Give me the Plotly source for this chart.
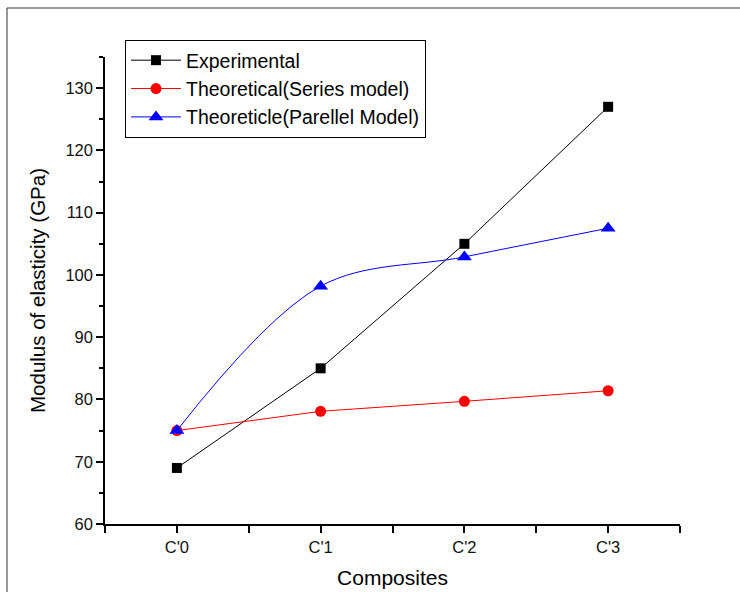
import plotly.graph_objects as go

categories = ["C'0", "C'1", "C'2", "C'3"]
experimental = [69, 85, 105, 127]
series_model = [75, 78.1, 79.7, 81.4]
parallel_model = [75, 98.2, 102.9, 107.5]
y_ticks = [60, 70, 80, 90, 100, 110, 120, 130]

xi = list(range(len(categories)))

fig = go.Figure()
fig.add_trace(go.Scatter(
    x=xi, y=experimental, name="Experimental", mode="lines+markers",
    line=dict(color="black", width=1),
    marker=dict(symbol="square", size=10, color="black")))
fig.add_trace(go.Scatter(
    x=xi, y=series_model, name="Theoretical(Series model)", mode="lines+markers",
    line=dict(color="#ff0000", width=1),
    marker=dict(symbol="circle", size=11, color="#ff0000")))
fig.add_trace(go.Scatter(
    x=xi, y=parallel_model, name="Theoreticle(Parellel Model)", mode="lines+markers",
    line=dict(color="#0000ff", width=1, shape="spline", smoothing=1),
    marker=dict(symbol="triangle-up", size=13, color="#0000ff")))

axis_font = dict(family="Liberation Sans, Arial, sans-serif", size=16.5, color="#111")

fig.update_layout(
    width=740, height=592,
    margin=dict(l=105, r=60, t=57, b=68, autoexpand=False),
    paper_bgcolor="white", plot_bgcolor="white",
    font=dict(family="Liberation Sans, Arial, sans-serif", color="black"),
    showlegend=True,
    legend=dict(
        x=(125 - 105) / 575, y=(524 - 40) / 467, xanchor="left", yanchor="top",
        bordercolor="black", borderwidth=1, bgcolor="white",
        font=dict(size=19.5, color="black"),
        tracegroupgap=0, itemwidth=50,
    ),
    xaxis=dict(
        range=[-0.5, 3.5], tickmode="array", tickvals=xi, ticktext=categories,
        automargin=False,
        showgrid=False, zeroline=False, showline=True, linecolor="black", linewidth=1.5,
        ticks="outside", ticklen=7, tickwidth=1.5, tickcolor="black",
        tickfont=axis_font,
        minor=dict(tickmode="array", tickvals=[-0.5, 0.5, 1.5, 2.5, 3.5],
                   ticks="outside", ticklen=7, tickwidth=1.5, tickcolor="black", showgrid=False),
        title=dict(text="Composites", font=dict(size=21, color="black"), standoff=16),
    ),
    yaxis=dict(
        range=[60, 135], tickmode="array", tickvals=y_ticks,
        automargin=False,
        showgrid=False, zeroline=False, showline=True, linecolor="black", linewidth=1.5,
        ticks="outside", ticklen=7, tickwidth=1.5, tickcolor="black",
        tickfont=axis_font,
        minor=dict(tickmode="array", tickvals=[65, 75, 85, 95, 105, 115, 125, 135],
                   ticks="outside", ticklen=4, tickwidth=1.5, tickcolor="black", showgrid=False),
        title=dict(text="Modulus of elasticity (GPa)", font=dict(size=20.5, color="black"), standoff=14),
    ),
)

# outer frame (top and left edges)
fig.add_shape(type="line", xref="paper", yref="paper",
              x0=(7 - 105) / 575, x1=(742 - 105) / 575,
              y0=(524 - 8) / 467, y1=(524 - 8) / 467,
              line=dict(color="#777", width=1.5))
fig.add_shape(type="line", xref="paper", yref="paper",
              x0=(7 - 105) / 575, x1=(7 - 105) / 575,
              y0=(524 - 8) / 467, y1=(524 - 595) / 467,
              line=dict(color="#333", width=1))

fig.write_html("out.html")
